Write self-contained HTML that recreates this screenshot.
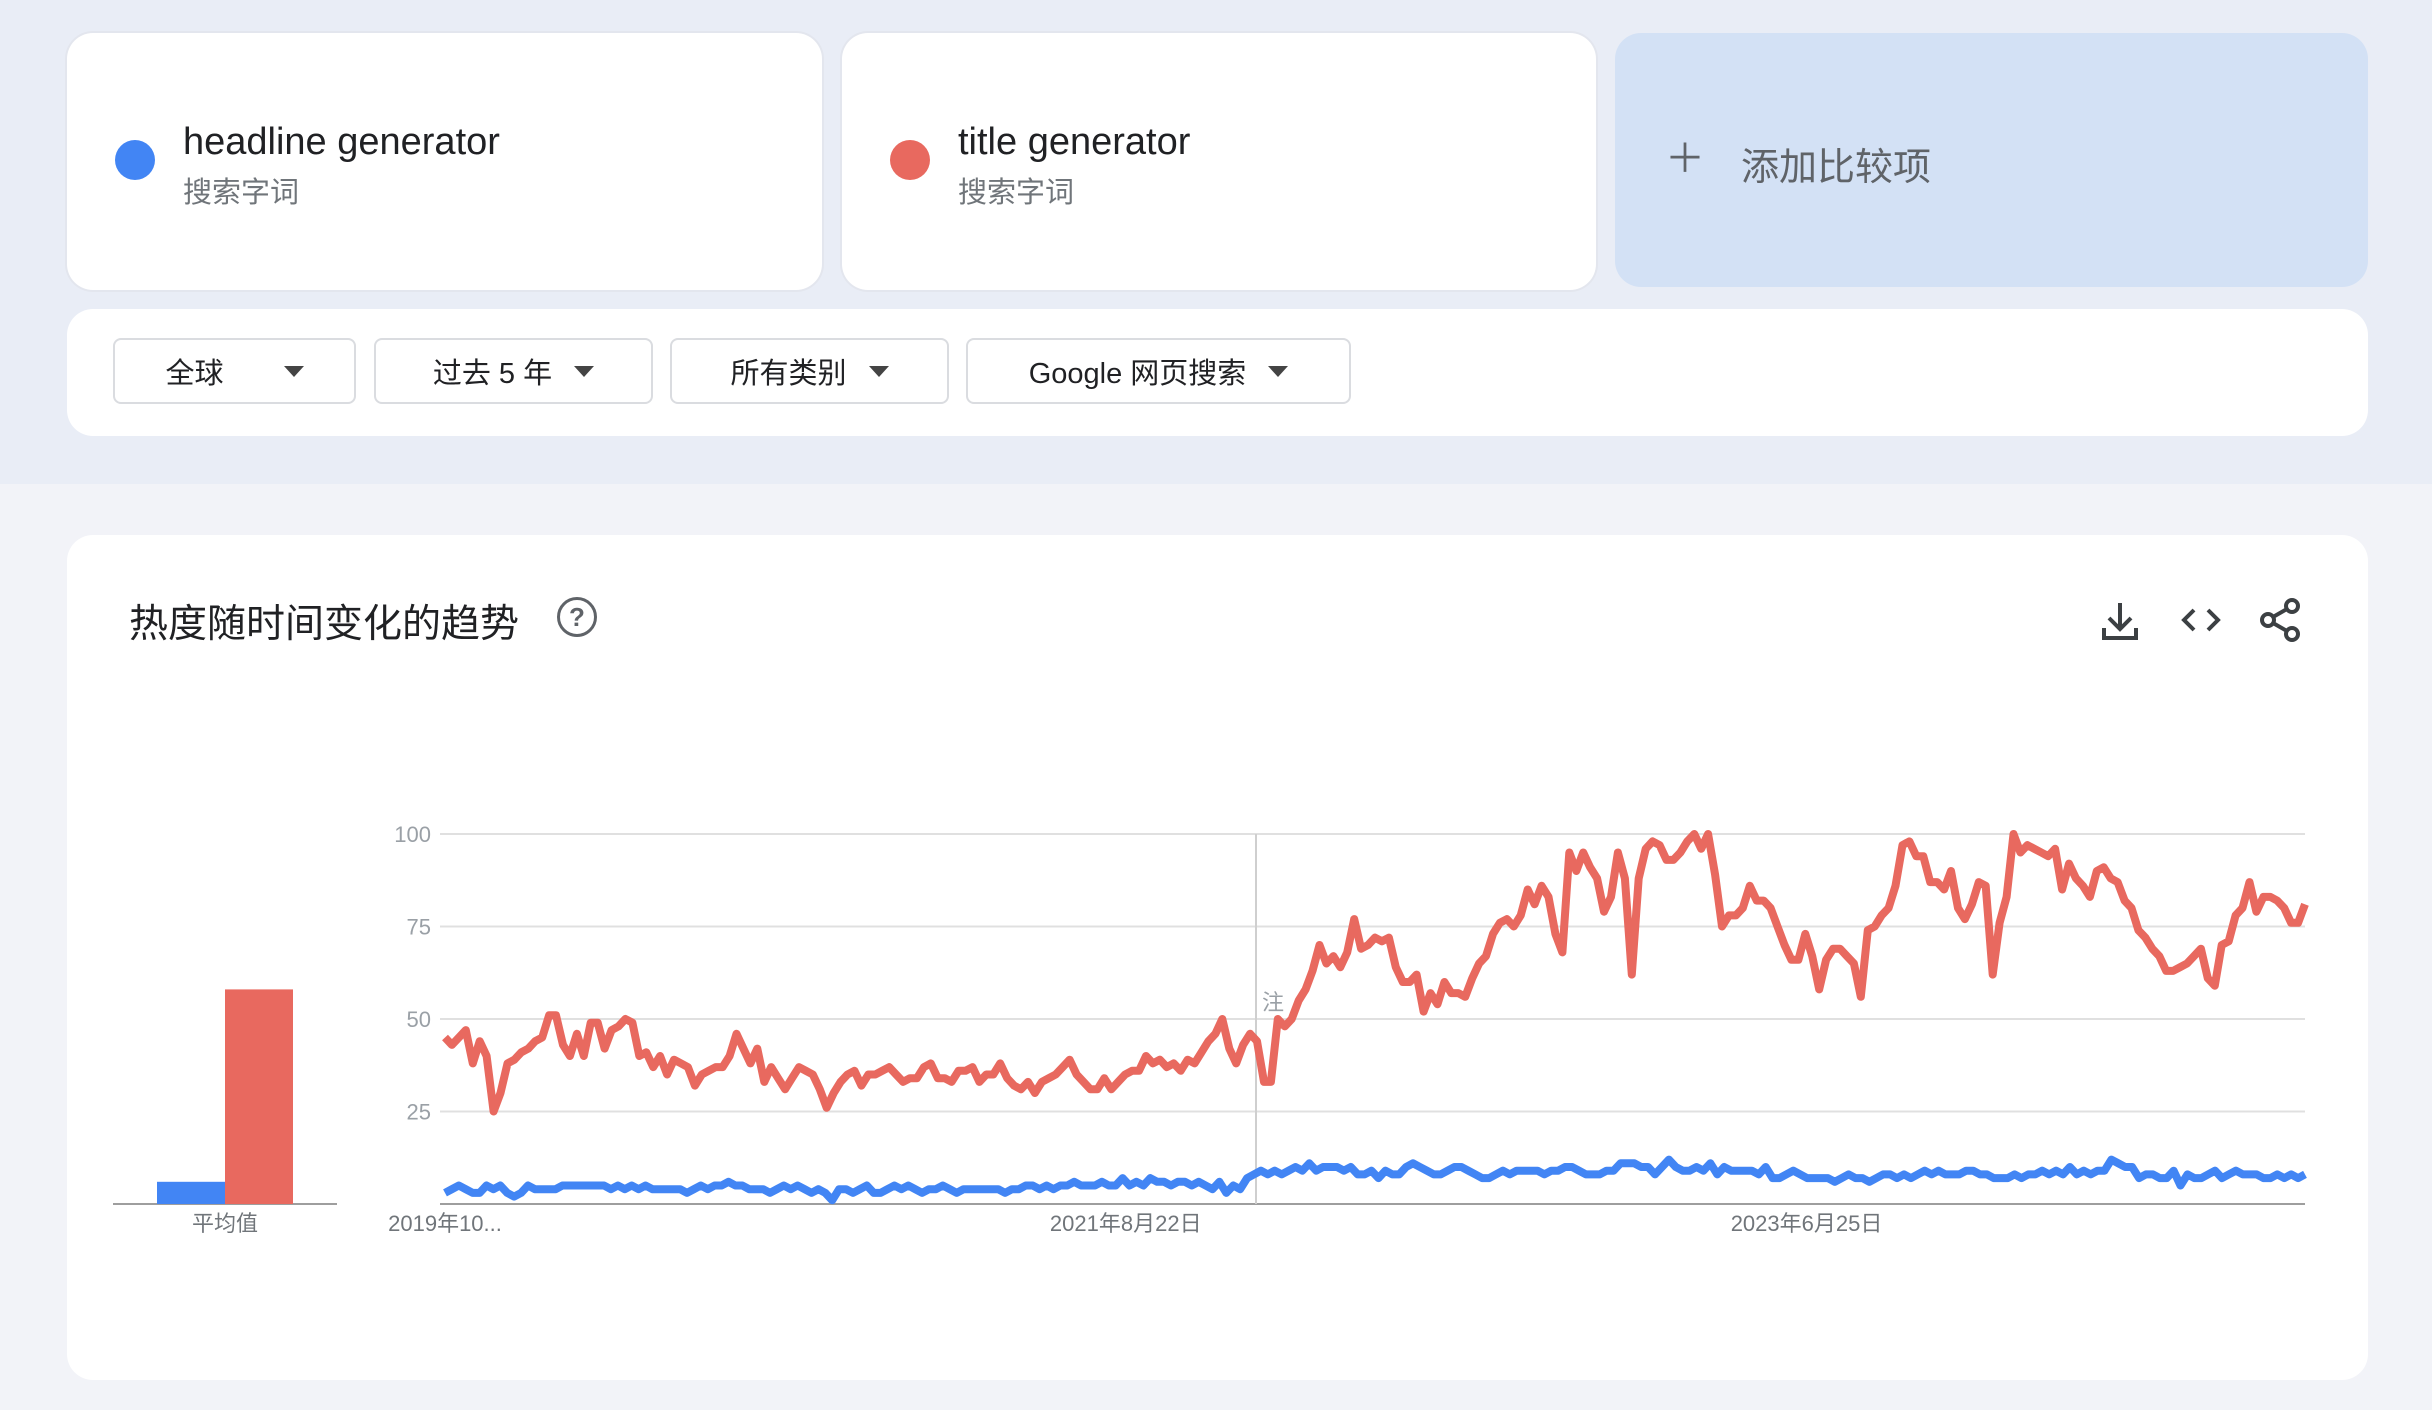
<!DOCTYPE html>
<html><head><meta charset="utf-8">
<style>
body{margin:0;width:2432px;height:1410px;background:#f2f3f8;font-family:"Liberation Sans","Noto Sans CJK SC",sans-serif;position:relative;overflow:hidden}
.top{position:absolute;left:0;top:0;width:2432px;height:484px;background:#e9edf6}
.card{position:absolute;background:#fff;border-radius:26px;box-shadow:0 0 0 2px #e3e6ee}
.dd{position:absolute;top:338px;height:66px;border:2px solid #dadce0;border-radius:8px;background:#fff;font-size:29px;color:#202124;display:flex;align-items:center;justify-content:center;box-sizing:border-box}
.tri{display:inline-block;width:0;height:0;border-left:10px solid transparent;border-right:10px solid transparent;border-top:11px solid #444;margin-left:22px}
</style></head><body>
<div class="top"></div>
<div class="card" style="left:67px;top:33px;width:755px;height:257px">
 <div style="position:absolute;left:48px;top:107px;width:40px;height:40px;border-radius:50%;background:#4285f4"></div>
 <div style="position:absolute;left:116px;top:88px;font-size:38px;color:#202124">headline generator</div>
 <div style="position:absolute;left:116px;top:136px;font-size:29px;color:#70757a">搜索字词</div>
</div>
<div class="card" style="left:842px;top:33px;width:754px;height:257px">
 <div style="position:absolute;left:48px;top:107px;width:40px;height:40px;border-radius:50%;background:#e8695f"></div>
 <div style="position:absolute;left:116px;top:88px;font-size:38px;color:#202124">title generator</div>
 <div style="position:absolute;left:116px;top:136px;font-size:29px;color:#70757a">搜索字词</div>
</div>
<div class="card" style="left:1615px;top:33px;width:753px;height:254px;background:#d3e1f5;box-shadow:none">
 <div style="position:absolute;left:50px;top:106px;font-size:40px;color:#5f6368;line-height:40px">＋</div>
 <div style="position:absolute;left:126px;top:103px;font-size:38px;color:#5f6368">添加比较项</div>
</div>
<div class="card" style="left:67px;top:309px;width:2301px;height:127px;box-shadow:none"></div>
<div class="dd" style="left:113px;width:243px">全球<span class="tri" style="margin-left:60px"></span></div>
<div class="dd" style="left:374px;width:279px">过去 5 年<span class="tri"></span></div>
<div class="dd" style="left:670px;width:279px">所有类别<span class="tri"></span></div>
<div class="dd" style="left:966px;width:385px">Google 网页搜索<span class="tri"></span></div>
<div class="card" style="left:67px;top:535px;width:2301px;height:845px;box-shadow:none">
 <div style="position:absolute;left:62px;top:58px;font-size:39px;color:#202124">热度随时间变化的趋势</div>
 <div style="position:absolute;left:490px;top:62px;width:34px;height:34px;border:3px solid #5f6368;border-radius:50%;font-size:26px;color:#5f6368;text-align:center;line-height:35px;font-weight:bold">?</div>
</div>
<svg width="2432" height="1410" style="position:absolute;left:0;top:0" id="svg">
 <g stroke="#3c4043" stroke-width="4" fill="none"><path d="M2120 603v25M2109 618l11 11 11-11M2104 628v10h32v-10"/></g>
 <g stroke="#3c4043" stroke-width="4" fill="none"><path d="M2194 610l-10 10 10 10M2208 610l10 10-10 10"/></g>
 <g stroke="#3c4043" stroke-width="4" fill="none"><circle cx="2292" cy="606" r="6"/><circle cx="2268" cy="620" r="6"/><circle cx="2292" cy="634" r="6"/><path d="M2273 617l14-8M2273 623l14 8"/></g>
 <g id="chart"></g>
</svg>
<script>
const red=[45,43,45,47,38,44,40,25,30,38,39,41,42,44,45,51,51,43,40,46,40,49,49,42,47,48,50,49,40,41,37,40,35,39,38,37,32,35,36,37,37,40,46,42,38,42,33,37,34,31,34,37,36,35,31,26,30,33,35,36,32,35,35,36,37,35,33,34,34,37,38,34,34,33,36,36,37,33,35,35,38,34,32,31,33,30,33,34,35,37,39,35,33,31,31,34,31,33,35,36,36,40,38,39,37,38,36,39,38,41,44,46,50,42,38,43,46,44,33,33,50,48,50,55,58,63,70,65,67,64,68,77,69,70,72,71,72,64,60,60,62,52,57,54,60,57,57,56,61,65,67,73,76,77,75,78,85,81,86,83,73,68,95,90,95,91,88,79,83,95,88,62,88,96,98,97,93,93,95,98,100,96,100,89,75,78,78,80,86,82,82,80,75,70,66,66,73,67,58,66,69,69,67,65,56,74,75,78,80,86,97,98,94,94,87,87,85,90,80,77,81,87,86,62,76,83,100,95,97,96,95,94,96,85,92,88,86,83,90,91,88,87,82,80,74,72,69,67,63,63,64,65,67,69,61,59,70,71,78,80,87,79,83,83,82,80,76,76,81];
const blue=[3,4,5,4,3,3,5,4,5,3,2,3,5,4,4,4,4,5,5,5,5,5,5,5,4,5,4,5,4,5,4,4,4,4,4,3,4,5,4,5,5,6,5,5,4,4,4,3,4,5,4,5,4,3,4,3,1,4,4,3,4,5,3,3,4,5,4,5,4,3,4,4,5,4,3,4,4,4,4,4,4,3,4,4,5,5,4,5,4,5,5,6,5,5,5,6,5,5,7,5,6,5,7,6,6,5,6,6,5,6,5,4,6,3,5,4,7,8,9,8,9,8,9,10,9,11,9,10,10,10,9,10,8,8,9,7,9,8,8,10,11,10,9,8,8,9,10,10,9,8,7,7,8,9,8,9,9,9,9,8,9,9,10,10,9,8,8,8,9,9,11,11,11,10,10,8,10,12,10,9,9,10,9,11,8,10,9,9,9,9,8,10,7,7,8,9,8,7,7,7,7,6,7,8,7,7,6,7,8,8,7,8,7,8,9,8,9,8,8,8,9,9,8,8,7,7,7,8,7,8,8,9,8,9,8,10,8,9,8,9,9,12,11,10,10,7,8,8,7,7,9,5,8,7,7,8,9,7,8,9,8,8,8,7,7,8,7,8,7,8];
const yTicks=[25,50,75,100];
const xLabels=["2019年10...","2021年8月22日","2023年6月25日"];
const xLabelFrac=[0.0,0.366,0.732];
const avgVals=[6,58];
const X0=445,X1=2305,Y0=1204,Y100=834;
const ys=v=>Y0-(v/100)*(Y0-Y100);
const NS="http://www.w3.org/2000/svg";
const g=document.getElementById('chart');
function mk(t,a){const e=document.createElementNS(NS,t);for(const k in a)e.setAttribute(k,a[k]);g.appendChild(e);return e;}
yTicks.forEach(t=>{
 const l=mk('line',{x1:X0-5,x2:X1,y1:ys(t),y2:ys(t),stroke:'#e0e0e0','stroke-width':2});
 
 
 const tx=mk('text',{x:431,y:ys(t)+8,'text-anchor':'end','font-size':22,fill:'#9aa0a6'});
 tx.textContent=t;
 
 
});
const ax=mk('line',{x1:X0-5,x2:X1,y1:Y0,y2:Y0,stroke:'#9e9e9e','stroke-width':2});


const vl=mk('line',{x1:1256,x2:1256,y1:Y100,y2:Y0,stroke:'#cfcfcf','stroke-width':2});


xLabels.forEach((s,i)=>{
 const t=mk('text',{x:X0+xLabelFrac[i]*(X1-X0),y:1231,'text-anchor':'middle','font-size':22,fill:'#70757a'});
 t.textContent=s;
 
 
});
function line(arr,col,name){
 const n=arr.length;
 const pts=arr.map((v,i)=>(X0+i*(X1-X0)/(n-1)).toFixed(1)+','+ys(v).toFixed(1)).join(' ');
 const p=mk('polyline',{points:pts,fill:'none',stroke:col,'stroke-width':8,'stroke-linejoin':'round'});
 
 
}
line(blue,'#4285f4','series-headline-generator');
line(red,'#e8695f','series-title-generator');
const ab=mk('line',{x1:113,x2:337,y1:Y0,y2:Y0,stroke:'#9e9e9e','stroke-width':2});


const cols=['#4285f4','#e8695f'];
avgVals.forEach((v,i)=>{
 const r=mk('rect',{x:157+i*68,y:ys(v),width:68,height:Y0-ys(v),fill:cols[i]});
 
 
});
const at=mk('text',{x:225,y:1231,'text-anchor':'middle','font-size':22,fill:'#70757a'});
at.textContent='平均值';


const note=mk('text',{x:1262,y:1010,'font-size':22,fill:'#9aa0a6'});
note.textContent='注';


</script>
</body></html>
